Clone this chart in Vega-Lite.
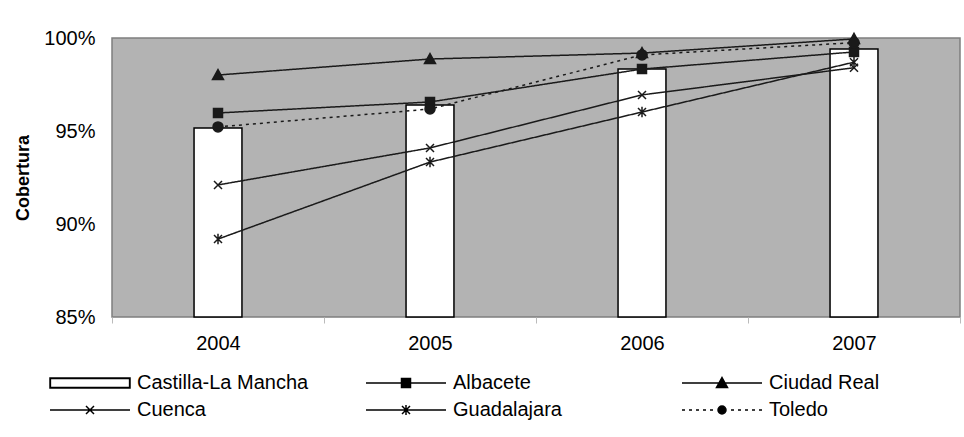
{
  "$schema": "https://vega.github.io/schema/vega-lite/v6.json",
  "width": 848,
  "height": 279,
  "autosize": {"type": "none"},
  "padding": {"left": 112, "top": 38, "right": 4, "bottom": 120},
  "background": "white",
  "config": {
    "font": "Liberation Sans",
    "view": {"fill": "#b3b3b3", "stroke": "#7f7f7f", "strokeWidth": 1.5},
    "axis": {"labelColor": "black", "titleColor": "black", "labelFont": "Liberation Sans", "titleFont": "Liberation Sans"},
    "legend": {"labelColor": "black", "labelFont": "Liberation Sans"}
  },
  "data": {
    "values": [
      {"year": "2004", "serie": "Castilla-La Mancha", "value": 95.16},
      {"year": "2005", "serie": "Castilla-La Mancha", "value": 96.40},
      {"year": "2006", "serie": "Castilla-La Mancha", "value": 98.33},
      {"year": "2007", "serie": "Castilla-La Mancha", "value": 99.41},
      {"year": "2004", "serie": "Albacete", "value": 95.97},
      {"year": "2005", "serie": "Albacete", "value": 96.56},
      {"year": "2006", "serie": "Albacete", "value": 98.33},
      {"year": "2007", "serie": "Albacete", "value": 99.25},
      {"year": "2004", "serie": "Ciudad Real", "value": 98.01},
      {"year": "2005", "serie": "Ciudad Real", "value": 98.87},
      {"year": "2006", "serie": "Ciudad Real", "value": 99.19},
      {"year": "2007", "serie": "Ciudad Real", "value": 99.95},
      {"year": "2004", "serie": "Cuenca", "value": 92.10},
      {"year": "2005", "serie": "Cuenca", "value": 94.09},
      {"year": "2006", "serie": "Cuenca", "value": 96.94},
      {"year": "2007", "serie": "Cuenca", "value": 98.40},
      {"year": "2004", "serie": "Guadalajara", "value": 89.19},
      {"year": "2005", "serie": "Guadalajara", "value": 93.33},
      {"year": "2006", "serie": "Guadalajara", "value": 96.02},
      {"year": "2007", "serie": "Guadalajara", "value": 98.70},
      {"year": "2004", "serie": "Toledo", "value": 95.22},
      {"year": "2005", "serie": "Toledo", "value": 96.18},
      {"year": "2006", "serie": "Toledo", "value": 99.09},
      {"year": "2007", "serie": "Toledo", "value": 99.75}
    ]
  },
  "encoding": {
    "x": {
      "field": "year",
      "type": "ordinal",
      "scale": {"paddingInner": 0, "paddingOuter": 0},
      "axis": {
        "title": null,
        "labelAngle": 0,
        "labelFontSize": 20,
        "labelPadding": 10,
        "tickBand": "extent",
        "tickColor": "#bbbbbb",
        "tickSize": 6,
        "domain": false
      }
    }
  },
  "layer": [
    {
      "transform": [{"filter": "datum.serie === 'Castilla-La Mancha'"}],
      "mark": {"type": "bar", "fill": "white", "stroke": "black", "strokeWidth": 1.5, "width": {"band": 0.226}},
      "encoding": {
        "y": {
          "field": "value",
          "type": "quantitative",
          "scale": {"domain": [85, 100], "zero": false, "nice": false},
          "axis": {
            "values": [85, 90, 95, 100],
            "labelExpr": "datum.value + '%'",
            "labelFontSize": 20,
            "labelPadding": 17,
            "ticks": false,
            "domain": false,
            "grid": false,
            "title": "Cobertura",
            "titleFontSize": 18,
            "titleFontWeight": "bold",
            "titlePadding": 11
          }
        },
        "y2": {"datum": 85}
      }
    },
    {
      "transform": [{"filter": "datum.serie !== 'Castilla-La Mancha'"}],
      "mark": {"type": "line", "color": "#1a1a1a", "strokeWidth": 1.5},
      "encoding": {
        "y": {"field": "value", "type": "quantitative"},
        "detail": {"field": "serie"},
        "strokeDash": {
          "field": "serie",
          "type": "nominal",
          "scale": {
            "domain": ["Albacete", "Ciudad Real", "Cuenca", "Guadalajara", "Toledo"],
            "range": [[1, 0], [1, 0], [1, 0], [1, 0], [3, 4]]
          },
          "legend": null
        }
      }
    },
    {
      "transform": [{"filter": "datum.serie !== 'Castilla-La Mancha'"}],
      "mark": {"type": "point", "filled": true, "color": "#1a1a1a", "stroke": "#1a1a1a", "strokeWidth": 1.5, "size": 100, "opacity": 1},
      "encoding": {
        "y": {"field": "value", "type": "quantitative"},
        "shape": {
          "field": "serie",
          "type": "nominal",
          "scale": {
            "domain": ["Albacete", "Ciudad Real", "Cuenca", "Guadalajara", "Toledo"],
            "range": [
              "M-0.9,-0.9H0.9V0.9H-0.9Z",
              "M0,-1.1L1.1,0.9H-1.1Z",
              "M-0.8,-0.8L0.8,0.8M-0.8,0.8L0.8,-0.8",
              "M-0.8,-0.8L0.8,0.8M-0.8,0.8L0.8,-0.8M0,-1.05V1.05",
              "circle"
            ]
          },
          "legend": null
        }
      }
    },
    {
      "mark": {"type": "point", "filled": true, "color": "black", "stroke": "black", "strokeWidth": 1.5, "opacity": 0, "size": 400},
      "encoding": {
        "y": {"field": "value", "type": "quantitative"},
        "shape": {
          "field": "serie",
          "type": "nominal",
          "scale": {
            "domain": ["Castilla-La Mancha", "Albacete", "Ciudad Real", "Cuenca", "Guadalajara", "Toledo"],
            "range": [
              "M-1.1,-0.5H6.9V0.5H-1.1ZM-1.06,-0.46V0.46H6.86V-0.46Z",
              "M-1.1,0H6.9M2.45,-0.45H3.35V0.45H2.45Z",
              "M-1.1,0H6.9M2.9,-0.55L3.45,0.45H2.35Z",
              "M-1.1,0H6.9M2.5,-0.4L3.3,0.4M2.5,0.4L3.3,-0.4",
              "M-1.1,0H6.9M2.5,-0.4L3.3,0.4M2.5,0.4L3.3,-0.4M2.9,-0.5V0.5",
              "M-1.1,0H-0.8M-0.4,0H-0.1M0.3,0H0.6M1,0H1.3M1.7,0H2M3.3,0A0.4,0.4,0,1,1,2.5,0A0.4,0.4,0,1,1,3.3,0ZM3.8,0H4.1M4.5,0H4.8M5.2,0H5.5M5.9,0H6.2M6.6,0H6.9"
            ]
          },
          "legend": {
            "title": null, "orient": "none", "legendX": -62, "legendY": 334,
            "columns": 3, "direction": "horizontal", "gridAlign": "all",
            "columnPadding": 54, "rowPadding": 6, "labelFontSize": 20, "labelOffset": 65,
            "labelLimit": 400, "symbolStrokeWidth": 1.5,
            "symbolOpacity": 1, "symbolSize": 400, "padding": 0,
            "encode": {
              "symbols": {
                "opacity": {"value": 1},
                "stroke": {"value": "black"},
                "strokeWidth": {"value": 1.5},
                "fill": {"value": "black"}
              }
            }
          }
        }
      }
    }
  ],
  "resolve": {"scale": {"shape": "independent"}, "legend": {"shape": "independent"}}
}
